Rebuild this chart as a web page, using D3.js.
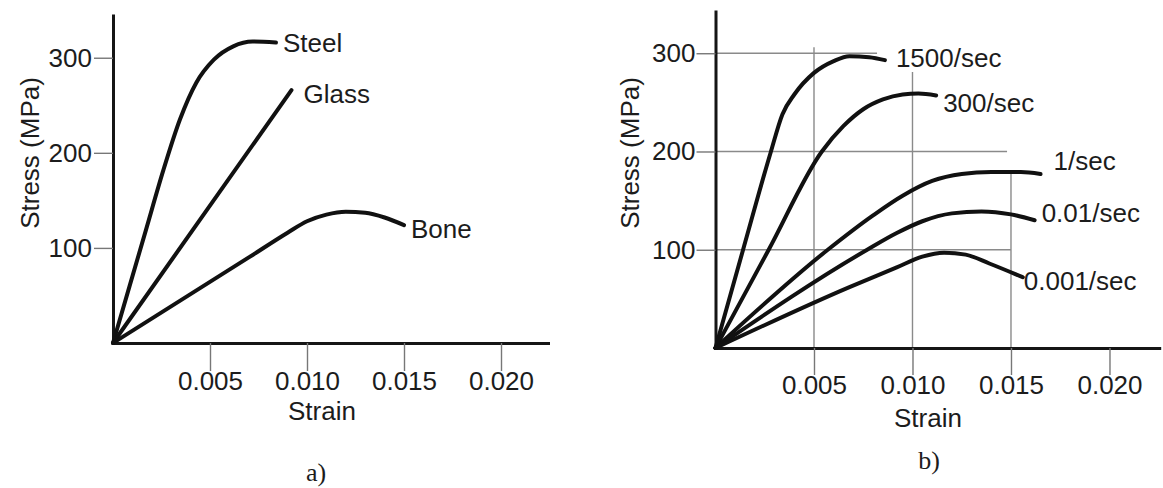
<!DOCTYPE html>
<html>
<head>
<meta charset="utf-8">
<script src="https://cdn.jsdelivr.net/npm/d3@7"></script>
<style>
  body { margin: 0; background: #fff; }
  text { font-family: "Liberation Sans", Arial, sans-serif; fill: #1c1c1c; }
</style>
</head>
<body>
<script>
// ticks
const stressTicks = [100, 200, 300];
const strainTicks = [0.005, 0.010, 0.015, 0.020];

// a) materials  [strain, stress]
const steel = [[0,0],[0.0017,119],[0.0026,182],[0.00345,235],[0.0043,274],[0.0052,298],[0.0062,312],[0.0072,317],[0.0084,316]];
const glass = [[0,0],[0.0092,266]];
const bone  = [[0,0],[0.0070,90],[0.0090,116],[0.0100,128],[0.0110,135],[0.0120,138],[0.0130,137],[0.0140,132],[0.0150,124]];
const materials = ["Steel", "Glass", "Bone"];

// b) bone at different strain rates
const rate1500 = [[0,0],[0.0014,100],[0.0028,199],[0.0034,238],[0.0040,258],[0.0050,280],[0.0060,292],[0.0068,297],[0.0078,296],[0.0086,293]];
const rate300  = [[0,0],[0.0027,100],[0.0054,200],[0.0065,226],[0.0075,243],[0.0085,253],[0.0095,258],[0.0103,259],[0.0112,257]];
const rate1    = [[0,0],[0.0057,100],[0.0080,135],[0.0095,155],[0.0110,170],[0.0125,177],[0.0140,179],[0.0155,179],[0.0165,177]];
const rate001  = [[0,0],[0.0077,100],[0.0092,117],[0.0105,129],[0.0120,137],[0.0135,139],[0.0150,136],[0.0162,130]];
const rate0001 = [[0,0],[0.0068,62],[0.0092,82],[0.0105,93],[0.0116,97],[0.0127,95],[0.0139,86],[0.0156,72]];
const rates = ["1500/sec", "300/sec", "1/sec", "0.01/sec", "0.001/sec"];

// hand drawn grid in b)  (stress level, strain where it stops) / (strain, stress top)
const hGrid = [[300, 0.0082], [200, 0.0148], [100, 0.0150]];
const vGrid = [[0.005, 306], [0.010, 281], [0.015, 178]];

const svg = d3.select("body").append("svg")
  .attr("width", 1163)
  .attr("height", 488);

// label offsets from curve end (px)
const offs = {
  "Steel": [7, 9], "Glass": [12, 13], "Bone": [7, 13],
  "1500/sec": [11, 7], "300/sec": [7, 17], "1/sec": [13, -4],
  "0.01/sec": [7, 2], "0.001/sec": [1, 13]
};

function panel(o) {
  const x = d3.scaleLinear().domain(o.xDomain).range(o.xRange);
  const y = d3.scaleLinear().domain(o.yDomain).range(o.yRange);
  const g = svg.append("g");

  // grid (b only)
  if (o.grid) {
    g.selectAll(".hg").data(hGrid).join("line")
      .attr("x1", x(0)).attr("x2", d => x(d[1]))
      .attr("y1", d => y(d[0])).attr("y2", d => y(d[0]))
      .attr("stroke", "#8a8a8a").attr("stroke-width", 1.4);
    g.selectAll(".vg").data(vGrid).join("line")
      .attr("x1", d => x(d[0])).attr("x2", d => x(d[0]))
      .attr("y1", y(0)).attr("y2", d => y(d[1]))
      .attr("stroke", "#8a8a8a").attr("stroke-width", 1.4);
  }

  // axes
  const ay = g.append("g").attr("transform", `translate(${x(0)},0)`)
    .call(d3.axisLeft(y).tickValues(stressTicks).tickSize(19).tickPadding(o.yPad).tickSizeOuter(0));
  const ax = g.append("g").attr("transform", `translate(0,${y(0)})`)
    .call(d3.axisBottom(x).tickValues(strainTicks).tickFormat(d3.format(".3f"))
      .tickSize(o.xTick).tickPadding(1).tickSizeOuter(0));
  [ay, ax].forEach(a => {
    a.select(".domain").attr("stroke", "#151515").attr("stroke-width", 3);
    a.selectAll(".tick line").attr("stroke", "#777").attr("stroke-width", 1.4);
    a.selectAll(".tick text").attr("font-size", 26).attr("fill", "#1c1c1c")
      .attr("font-family", "Liberation Sans, Arial, sans-serif");
  });

  // curves
  const line = d3.line().x(d => x(d[0])).y(d => y(d[1])).curve(d3.curveMonotoneX);
  g.selectAll(".curve").data(o.series).join("path")
    .attr("d", d => line(d.values))
    .attr("fill", "none").attr("stroke", "#111").attr("stroke-width", 4)
    .attr("stroke-linecap", "round").attr("stroke-linejoin", "round");

  g.selectAll(".lbl").data(o.series).join("text")
    .attr("x", d => x(d.values[d.values.length - 1][0]) + offs[d.name][0])
    .attr("y", d => y(d.values[d.values.length - 1][1]) + offs[d.name][1])
    .attr("font-size", 26)
    .text(d => d.name);

  // axis titles
  g.append("text")
    .attr("transform", `translate(${o.yTitle[0]},${o.yTitle[1]}) rotate(-90)`)
    .attr("text-anchor", "middle").attr("dy", "0.36em")
    .attr("font-size", 26).text("Stress (MPa)");
  g.append("text")
    .attr("x", o.xTitle[0]).attr("y", o.xTitle[1])
    .attr("text-anchor", "middle").attr("font-size", 26).text("Strain");
  g.append("text")
    .attr("x", o.cap[0]).attr("y", o.cap[1])
    .attr("text-anchor", "middle").attr("font-size", 26)
    .style("font-family", "Liberation Serif, Times New Roman, serif")
    .text(o.capText);
}

panel({
  xDomain: [0, 0.0225], xRange: [113, 549.5],
  yDomain: [0, 346], yRange: [343, 14],
  yPad: 2, xTick: 28,
  series: [steel, glass, bone].map((v, i) => ({ name: materials[i], values: v })),
  yTitle: [30, 153], xTitle: [322, 420], cap: [316, 481], capText: "a)"
});

panel({
  xDomain: [0, 0.0226], xRange: [715.5, 1160.7],
  yDomain: [0, 344], yRange: [348, 10],
  yPad: 1, xTick: 27, grid: true,
  series: [rate1500, rate300, rate1, rate001, rate0001].map((v, i) => ({ name: rates[i], values: v })),
  yTitle: [630, 153], xTitle: [928, 427], cap: [929, 469], capText: "b)"
});
</script>
</body>
</html>
